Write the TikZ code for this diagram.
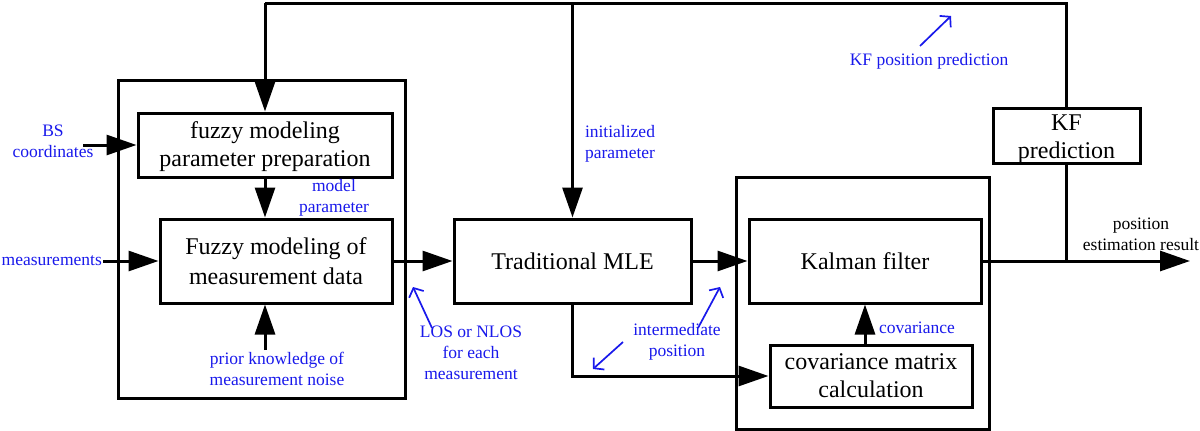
\documentclass[tikz,border=0pt]{standalone}
\usepackage{fontspec}
\setmainfont{Liberation Serif}
\usetikzlibrary{arrows.meta,calc}
\definecolor{lblue}{RGB}{25,25,235}
\tikzset{
  blk/.style={draw,line width=3pt,inner sep=0pt,align=center,font=\fontsize{24}{28}\selectfont},
  frame/.style={draw,line width=3pt,inner sep=0pt},
  btxt/.style={inner sep=0pt,align=center,font=\fontsize{24}{28}\selectfont},
  lbl/.style={text=lblue,inner sep=0pt,align=center,font=\fontsize{17.5}{21}\selectfont},
  blbl/.style={text=black,inner sep=0pt,align=center,font=\fontsize{17.5}{21}\selectfont},
  wire/.style={line width=3pt},
  arr/.style={line width=3pt,-{Triangle[length=30pt,width=20pt]}},
  barr/.style={draw=lblue,line width=1.7pt,-{Straight Barb[length=7pt,width=16pt]}}
}
\begin{document}
\begin{tikzpicture}[x=1pt,y=-1pt]
\useasboundingbox (0,0) rectangle (1200,431);
% frames
\node[frame,minimum width=287pt,minimum height=318pt] (fl) at (261.5,239) {};
\node[frame,minimum width=253pt,minimum height=252pt] (fr) at (862.5,303) {};
% blocks
\node[blk,minimum width=254pt,minimum height=64pt] (p1) at (265,145) {};
\node[btxt] (p1t) at (265,146.5) {fuzzy modeling\\parameter preparation};
\node[blk,minimum width=232pt,minimum height=84pt,font=\fontsize{24}{30}\selectfont] (fz) at (276,261) {Fuzzy modeling of\\measurement data};
\node[blk,minimum width=237pt,minimum height=84pt] (mle) at (572.5,261) {Traditional MLE};
\node[blk,minimum width=232pt,minimum height=84pt] (kal) at (865,261) {Kalman filter};
\node[blk,minimum width=202pt,minimum height=62pt] (cov) at (871,376) {covariance matrix\\calculation};
\node[blk,minimum width=147pt,minimum height=55pt] (kf) at (1066.5,135.5) {};
\node[btxt] (kft) at (1066.5,139.5) {KF\\prediction};
% coordinates
\coordinate (tl) at (265,3);
\coordinate (tm) at (572.5,3);
\coordinate (bsin) at (83,145);
\coordinate (msin) at (103,261);
\coordinate (prin) at (265,350);
\coordinate (out) at (1190,261);
% labels
\node[lbl] (bs) at (53,141) {BS\\coordinates};
\node[lbl,anchor=east] (meas) at (102,261) {measurements};
\node[lbl] (mp) at (334,198) {model\\parameter};
\node[lbl] (pk) at (277,369) {prior knowledge of\\measurement noise};
\node[lbl] (ip) at (620,144) {initialized\\parameter};
\node[lbl] (los) at (471,353) {LOS or NLOS\\for each\\measurement};
\node[lbl] (inter) at (677,342) {intermediate\\position};
\node[lbl] (cv) at (917,328) {covariance};
\node[lbl] (kfp) at (929,61) {KF position prediction};
\node[blbl] (per) at (1141,234) {position\\estimation result};
% wires
\draw[wire] (kf.north) |- (tl);
\draw[arr] (tl) -- (p1.north);
\draw[arr] (tm) -- (mle.north);
\draw[arr] (bsin) -- (bsin -| p1.west);
\draw[arr] (msin) -- (fz.west);
\draw[arr] (p1.south) -- (p1.south |- fz.north);
\draw[arr] (prin) -- (prin |- fz.south);
\draw[arr] (fz.east) -- (mle.west);
\draw[arr] (mle.east) -- (kal.west);
\draw[arr] (mle.south) |- (cov.west);
\draw[arr] (cov.north -| kal.south) -- (kal.south);
\draw[arr] (kal.east) -- (out);
\draw[wire] (kf.south) -- (kf.south |- kal.east);
% blue pointer arrows
\coordinate (a1s) at (432,328); \coordinate (a1e) at (413,287);
\coordinate (a2s) at (698,328); \coordinate (a2e) at (720,287);
\coordinate (a3s) at (623,342); \coordinate (a3e) at (593,369);
\coordinate (a4s) at (920,46);  \coordinate (a4e) at (951,16);
\draw[barr] (a1s) -- (a1e);
\draw[barr] (a2s) -- (a2e);
\draw[barr] (a3s) -- (a3e);
\draw[barr] (a4s) -- (a4e);
\end{tikzpicture}
\end{document}
